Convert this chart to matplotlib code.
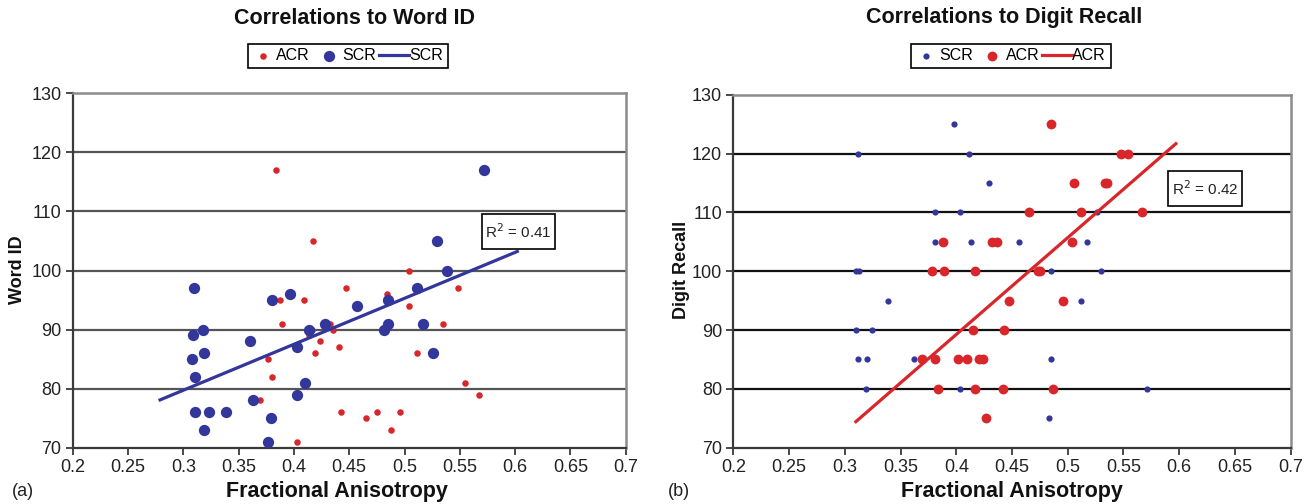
import numpy as np
import matplotlib
matplotlib.use("Agg")
import matplotlib.pyplot as plt
from matplotlib.ticker import FormatStrFormatter
from matplotlib.legend_handler import HandlerLine2D
from matplotlib.patches import Rectangle

plt.rcParams['font.family'] = ['Liberation Sans', 'DejaVu Sans']

BLUE = "#33369a"
RED = "#d8262b"

# ---- panel (a): Word ID ----
word_acr_fa = [0.3835, 0.417, 0.447, 0.3874, 0.4089, 0.389, 0.416, 0.414, 0.4236, 0.419,
               0.433, 0.4357, 0.441, 0.377, 0.380, 0.3694, 0.443, 0.465, 0.475, 0.4025,
               0.4875, 0.496, 0.4839, 0.5044, 0.5044, 0.5116, 0.535, 0.548, 0.555, 0.5676]
word_acr_score = [117, 105, 97, 95, 95, 91, 90, 89, 88, 86,
                  91, 90, 87, 85, 82, 78, 76, 75, 76, 71,
                  73, 76, 96, 100, 94, 86, 91, 97, 81, 79]

word_scr_fa = [0.310, 0.309, 0.318, 0.308, 0.319, 0.311, 0.311, 0.3235, 0.3386, 0.319,
               0.360, 0.363, 0.379, 0.377, 0.3805, 0.3965, 0.403, 0.403, 0.410, 0.414,
               0.428, 0.4568, 0.4817, 0.4848, 0.4848, 0.5116, 0.517, 0.5255, 0.5297, 0.538,
               0.572]
word_scr_score = [97, 89, 90, 85, 86, 82, 76, 76, 76, 73,
                  88, 78, 75, 71, 95, 96, 87, 79, 81, 90,
                  91, 94, 90, 91, 95, 97, 91, 86, 105, 100,
                  117]
word_r2 = 0.41

# ---- panel (b): Digit Recall ----
digit_scr_fa = [0.398, 0.312, 0.411, 0.429, 0.381, 0.403, 0.381, 0.413, 0.4566, 0.310,
                0.313, 0.339, 0.310, 0.324, 0.3115, 0.3196, 0.362, 0.319, 0.403, 0.526,
                0.5176, 0.4846, 0.5295, 0.512, 0.4846, 0.5707, 0.4829]
digit_scr_score = [125, 120, 120, 115, 110, 110, 105, 105, 105, 100,
                   100, 95, 90, 90, 85, 85, 85, 80, 80, 110,
                   105, 100, 100, 95, 85, 80, 75]

digit_acr_fa = [0.388, 0.432, 0.4365, 0.378, 0.389, 0.4168, 0.4476, 0.4153, 0.443, 0.369,
                0.381, 0.402, 0.410, 0.4207, 0.4237, 0.384, 0.4168, 0.442, 0.4267, 0.4846,
                0.5474, 0.5543, 0.5056, 0.5335, 0.5355, 0.4649, 0.5115, 0.5666, 0.5038, 0.4735,
                0.4755, 0.4954, 0.487]
digit_acr_score = [105, 105, 105, 100, 100, 100, 95, 90, 90, 85,
                   85, 85, 85, 85, 85, 80, 80, 80, 75, 125,
                   120, 120, 115, 115, 115, 110, 110, 110, 105, 100,
                   100, 95, 80]
digit_r2 = 0.42

x_ticks = [0.2, 0.25, 0.3, 0.35, 0.4, 0.45, 0.5, 0.55, 0.6, 0.65, 0.7]
y_ticks = [70, 80, 90, 100, 110, 120, 130]

W, H = 1313, 504


class LongLineHandler(HandlerLine2D):
    # trend line entry: longer line that runs right up to its label
    def create_artists(self, legend, orig_handle, xdescent, ydescent, width, height, fontsize, trans):
        artists = super().create_artists(legend, orig_handle, xdescent, ydescent,
                                         width, height, fontsize, trans)
        for a in artists:
            yd = np.asarray(a.get_ydata())
            if len(yd) >= 2:
                a.set_data([-0.45 * fontsize, width + legend.handletextpad * fontsize],
                           [yd[0], yd[0]])
        return artists


def style_axes(ax, grid_color):
    ax.set_xlim(0.2, 0.7)
    ax.set_ylim(70, 130)
    ax.set_xticks(x_ticks)
    ax.set_yticks(y_ticks)
    ax.xaxis.set_major_formatter(FormatStrFormatter('%g'))
    ax.tick_params(direction="out", length=5, width=1.3, labelsize=13, pad=3, color="#3a3a3a",
                   labelcolor="#222222")
    ax.hlines(y_ticks[1:-1], 0.2, 0.7, colors=grid_color, linewidth=1.6, zorder=0.5)
    for side in ("left", "bottom"):
        ax.spines[side].set_color("#3a3a3a")
        ax.spines[side].set_linewidth(1.6)
    for side in ("top", "right"):
        ax.spines[side].set_color("#8c8c8c")
        ax.spines[side].set_linewidth(1.8)


def trend(ax, x, y, xr, color, label):
    coef = np.polyfit(x, y, 1)
    xs = np.array(xr)
    ax.plot(xs, np.polyval(coef, xs), color=color, linewidth=2.3, zorder=4, label=label)


def r2_box(ax, r2, x0, y0, w, h):
    ax.add_patch(Rectangle((x0, y0), w, h, transform=ax.transAxes, facecolor="white",
                           edgecolor="black", linewidth=1.2, zorder=5))
    ax.text(x0 + w / 2, y0 + h / 2, f"R$^2$ = {r2:.2f}", transform=ax.transAxes, fontsize=11,
            ha="center", va="center", zorder=6, color="#222222")


def add_legend(ax, cx):
    h, l = ax.get_legend_handles_labels()
    leg = fig.legend(h, l, loc="center", bbox_to_anchor=(cx / W, 1 - 56 / H), ncol=3, fontsize=11.5,
                     frameon=True, fancybox=False, edgecolor="black", framealpha=1,
                     handlelength=1.2, handletextpad=0.25, columnspacing=0.6, borderpad=0.3,
                     borderaxespad=0, scatterpoints=1,
                     handler_map={h[2]: LongLineHandler()})
    leg.get_frame().set_linewidth(1.2)


fig = plt.figure(figsize=(W / 100, H / 100), dpi=100)

# panel (a)
ax1 = fig.add_axes([72.7 / W, 1 - 447.7 / H, 553 / W, 354.4 / H])
ax1.scatter(word_acr_fa, word_acr_score, s=22, color=RED, zorder=2, label="ACR", linewidths=0)
ax1.scatter(word_scr_fa, word_scr_score, s=66, color=BLUE, zorder=3, label="SCR", linewidths=0)
trend(ax1, word_scr_fa, word_scr_score, (0.279, 0.602), BLUE, "SCR")
style_axes(ax1, "#555555")
r2_box(ax1, word_r2, 0.7396, 0.5607, 0.1326, 0.0979)
add_legend(ax1, 348)
fig.text(354 / W, 1 - 18 / H, "Correlations to Word ID", ha="center", va="center",
         fontsize=15.5, fontweight="bold", color="#111111")
fig.text(17.5 / W, 1 - 270 / H, "Word ID", ha="center", va="center", rotation=90,
         fontsize=13, fontweight="bold", color="#111111")
fig.text(337 / W, 1 - 492 / H, "Fractional Anisotropy", ha="center", va="center",
         fontsize=15.5, fontweight="bold", color="#111111")
fig.text(12 / W, 1 - 492 / H, "(a)", fontsize=13, ha="left", va="center", color="#222222")

# panel (b)
ax2 = fig.add_axes([733.3 / W, 1 - 447.7 / H, 557.4 / W, 353 / H])
ax2.scatter(digit_scr_fa, digit_scr_score, s=20, color=BLUE, zorder=2, label="SCR", linewidths=0)
ax2.scatter(digit_acr_fa, digit_acr_score, s=50, color=RED, zorder=3, label="ACR", linewidths=0)
trend(ax2, digit_acr_fa, digit_acr_score, (0.310, 0.597), RED, "ACR")
style_axes(ax2, "#111111")
r2_box(ax2, digit_r2, 0.7804, 0.6853, 0.1328, 0.0992)
add_legend(ax2, 1011)
fig.text(1004 / W, 1 - 18 / H, "Correlations to Digit Recall", ha="center", va="center",
         fontsize=15.5, fontweight="bold", color="#111111")
fig.text(681 / W, 1 - 270 / H, "Digit Recall", ha="center", va="center", rotation=90,
         fontsize=13, fontweight="bold", color="#111111")
fig.text(1012 / W, 1 - 492 / H, "Fractional Anisotropy", ha="center", va="center",
         fontsize=15.5, fontweight="bold", color="#111111")
fig.text(668 / W, 1 - 492 / H, "(b)", fontsize=13, ha="left", va="center", color="#222222")

fig.savefig("out.png", dpi=100)
